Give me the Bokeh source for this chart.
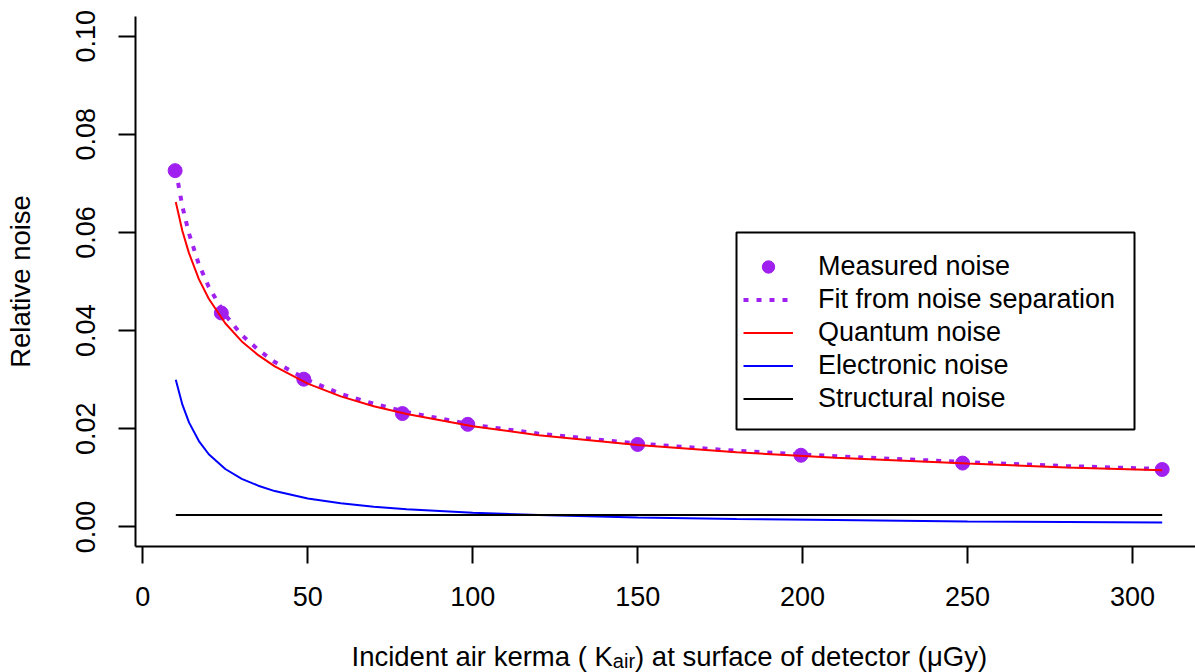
from bokeh.plotting import figure
from bokeh.models import (Range1d, FixedTicker, NumeralTickFormatter, Legend, LegendItem,
                          BoxAnnotation, Label)
from bokeh.embed import file_html
from bokeh.resources import INLINE

# ---- data ----
measured_kerma = [9.8, 23.8, 48.8, 78.7, 98.5, 150, 199.5, 248.5, 309]
measured_noise = [0.0726, 0.0436, 0.0301, 0.0231, 0.0209, 0.0168, 0.0146, 0.0130, 0.0117]

curve_kerma = [10, 12, 14, 17, 20, 25, 30, 35, 40, 50, 60, 70, 80, 100, 120, 150, 180, 210, 250, 280, 309]
fit_noise = [0.0727, 0.0653, 0.0598, 0.0535, 0.0489, 0.0432, 0.0391, 0.0361, 0.0336, 0.0299, 0.0271,
             0.0251, 0.0234, 0.0208, 0.0190, 0.0170, 0.0155, 0.0144, 0.0132, 0.0124, 0.0118]
quantum_noise = [0.0662, 0.0603, 0.0558, 0.0505, 0.0465, 0.0415, 0.0378, 0.0350, 0.0327, 0.0292, 0.0266,
                 0.0246, 0.0230, 0.0205, 0.0187, 0.0167, 0.0152, 0.0141, 0.0129, 0.0121, 0.01155]
electronic_noise = [0.0300, 0.0249, 0.0213, 0.0175, 0.0148, 0.0118, 0.0098, 0.0084, 0.0073, 0.0058, 0.0048,
                    0.0041, 0.0036, 0.0029, 0.0024, 0.0019, 0.0016, 0.0014, 0.0011, 0.0010, 0.0009]
structural_kerma = [10, 309]
structural_noise = [0.0024, 0.0024]

x_ticks = [0, 50, 100, 150, 200, 250, 300]
y_ticks = [0.0, 0.02, 0.04, 0.06, 0.08, 0.10]
legend_labels = ["Measured noise", "Fit from noise separation", "Quantum noise",
                 "Electronic noise", "Structural noise"]

# ---- layout constants (pixels) ----
W, H = 1195, 672
BOX_L, BOX_T, BOX_B = 135, 16, 546      # the L-shaped plot box
PX_PER_X = 3.299                        # pixels per kerma unit
X_ZERO_PX = 142.3                       # pixel of kerma 0
PX_PER_Y = 4907.0                       # pixels per noise unit
Y_ZERO_PY = 526.4                       # pixel row of noise 0
FONT = "Liberation Sans"
PURPLE = "#A020F0"


def px_to_x(px):
    return (px - X_ZERO_PX) / PX_PER_X


def py_to_y(py):
    return (Y_ZERO_PY - py) / PX_PER_Y


p = figure(width=W, height=H, output_backend="svg", toolbar_location=None,
           x_range=Range1d(px_to_x(0), px_to_x(W)), y_range=Range1d(py_to_y(H), py_to_y(0)),
           min_border=0)
p.outline_line_color = None
p.xgrid.visible = False
p.ygrid.visible = False
p.background_fill_color = "white"
p.border_fill_color = "white"

xa, ya = p.xaxis[0], p.yaxis[0]
for ax in (xa, ya):
    ax.axis_line_width = 2
    ax.axis_line_color = "black"
    ax.major_tick_line_width = 2
    ax.major_tick_line_color = "black"
    ax.major_tick_out = 17
    ax.major_tick_in = 0
    ax.minor_tick_out = 0
    ax.minor_tick_in = 0
    ax.major_label_text_font = FONT
    ax.major_label_text_font_size = "27px"
    ax.major_label_text_color = "black"
    ax.axis_label_text_font = FONT
    ax.axis_label_text_font_size = "27.5px"
    ax.axis_label_text_font_style = "normal"
    ax.axis_label_text_color = "black"

xa.fixed_location = py_to_y(BOX_B)
xa.bounds = (px_to_x(BOX_L), px_to_x(W + 10))
xa.ticker = FixedTicker(ticks=x_ticks)
xa.major_label_standoff = 23

ya.fixed_location = px_to_x(BOX_L)
ya.bounds = (py_to_y(BOX_B), py_to_y(BOX_T))
ya.ticker = FixedTicker(ticks=y_ticks)
ya.formatter = NumeralTickFormatter(format="0.00")
ya.major_label_orientation = "vertical"
ya.major_label_standoff = 23
ya.axis_label = "Relative noise"
ya.axis_label_standoff = 38

r_meas = p.scatter(measured_kerma, measured_noise, size=14, color=PURPLE, line_color=PURPLE)
r_fit = p.line(curve_kerma, fit_noise, line_color=PURPLE, line_width=4, line_dash="5 8")
r_q = p.line(curve_kerma, quantum_noise, line_color="#FF0000", line_width=2)
r_e = p.line(curve_kerma, electronic_noise, line_color="#0000FF", line_width=2)
r_s = p.line(structural_kerma, structural_noise, line_color="black", line_width=2)

legend = Legend(items=[LegendItem(label=l, renderers=[r]) for l, r in
                       zip(legend_labels, [r_meas, r_fit, r_q, r_e, r_s])],
                location=(743, H - 414), padding=0, margin=0, spacing=2,
                glyph_width=50, glyph_height=31, label_height=31, label_standoff=25,
                label_text_font=FONT, label_text_font_size="27px", label_text_color="black",
                border_line_color=None, background_fill_alpha=0)
p.add_layout(legend, "center")

p.add_layout(BoxAnnotation(left=px_to_x(736), right=px_to_x(1134), top=py_to_y(232), bottom=py_to_y(429),
                           fill_alpha=0, line_color="black", line_alpha=1.0, line_width=2))

# x-axis title with subscript
part1 = "Incident air kerma ( K"
part2 = "air"
part3 = ") at surface of detector (\u03bcGy)"
w1 = 9.503 * 27.5
w2 = 1.111 * 20
start = 351
base = 656
for txt, px, py, fs in [(part1, start, base, "27.5px"), (part2, start + w1, base + 4, "20px"),
                        (part3, start + w1 + w2, base, "27.5px")]:
    p.add_layout(Label(x=px_to_x(px), y=py_to_y(py), text=txt, text_font=FONT, text_font_size=fs,
                       text_color="black", text_align="left", text_baseline="alphabetic"))

open("out.html", "w").write(file_html(p, INLINE))
